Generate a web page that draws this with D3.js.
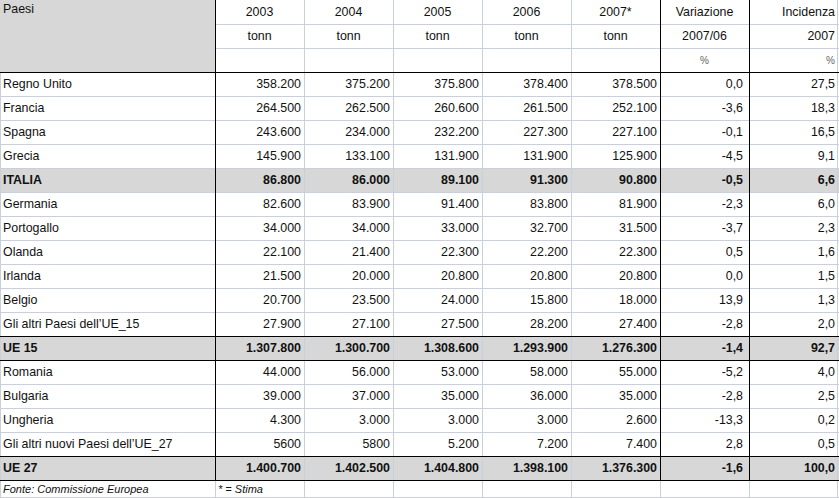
<!DOCTYPE html>
<html>
<head>
<meta charset="utf-8">
<script src="https://cdn.jsdelivr.net/npm/d3@7"></script>
<style>
	body { margin: 0; background: #fff; }
	svg text { font-family: "Liberation Sans", Arial, sans-serif; font-size: 12.4px; fill: #111; }
</style>
</head>
<body>
<div id="myTable"></div>
<script>

// table data
var countries = ["Regno Unito", "Francia", "Spagna", "Grecia", "ITALIA", "Germania", "Portogallo",
	"Olanda", "Irlanda", "Belgio", "Gli altri Paesi dell\u2019UE_15", "UE 15", "Romania", "Bulgaria",
	"Ungheria", "Gli altri nuovi Paesi dell\u2019UE_27", "UE 27"];
var y2003 = [358200, 264500, 243600, 145900, 86800, 82600, 34000, 22100, 21500, 20700, 27900, 1307800, 44000, 39000, 4300, 5600, 1400700];
var y2004 = [375200, 262500, 234000, 133100, 86000, 83900, 34000, 21400, 20000, 23500, 27100, 1300700, 56000, 37000, 3000, 5800, 1402500];
var y2005 = [375800, 260600, 232200, 131900, 89100, 91400, 33000, 22300, 20800, 24000, 27500, 1308600, 53000, 35000, 3000, 5200, 1404800];
var y2006 = [378400, 261500, 227300, 131900, 91300, 83800, 32700, 22200, 20800, 15800, 28200, 1293900, 58000, 36000, 3000, 7200, 1398100];
var y2007 = [378500, 252100, 227100, 125900, 90800, 81900, 31500, 22300, 20800, 18000, 27400, 1276300, 55000, 35000, 2600, 7400, 1376300];
var variazione = [0.0, -3.6, -0.1, -4.5, -0.5, -2.3, -3.7, 0.5, 0.0, 13.9, -2.8, -1.4, -5.2, -2.8, -13.3, 2.8, -1.6];
var incidenza = [27.5, 18.3, 16.5, 9.1, 6.6, 6.0, 2.3, 1.6, 1.5, 1.3, 2.0, 92.7, 4.0, 2.5, 0.2, 0.5, 100.0];

var headTop = ["2003", "2004", "2005", "2006", "2007*", "Variazione", "Incidenza"];
var headMid = ["tonn", "tonn", "tonn", "tonn", "tonn", "2007/06", "2007"];
var headBot = ["", "", "", "", "", "%", "%"];
var totalRows = ["ITALIA", "UE 15", "UE 27"];
// cells written in the source without thousands separator
var noSeparator = ["Gli altri nuovi Paesi dell\u2019UE_27|0", "Gli altri nuovi Paesi dell\u2019UE_27|1"];
var footNote = "Fonte: Commissione Europea";
var starNote = "* = Stima";

function drawTable() {
	var width = 839, height = 498;
	var labelW = 215, headH = 72, bodyBottom = 480;
	var grid = "#c9d0dc", shade = "#d7d7d7";

	var it = d3.formatLocale({decimal: ",", thousands: ".", grouping: [3], currency: ["", "\u20ac"], minus: "-"});
	var fmtT = it.format(",.0f"), fmtP = it.format(",.1f");

	var columns = [y2003, y2004, y2005, y2006, y2007, variazione, incidenza];

	var svg = d3.select('#myTable')
		.append('svg')
		.attr('width', width)
		.attr('height', height);

	var x = d3.scaleBand()
		.domain(d3.range(columns.length))
		.range([labelW, width - 1]);

	var y = d3.scaleBand()
		.domain(countries)
		.range([headH, bodyBottom]);

	var yHead = d3.scaleBand()
		.domain([0, 1, 2])
		.range([0, headH]);

	// shaded cells
	svg.append("rect")
		.attr("x", 0).attr("y", 0)
		.attr("width", labelW).attr("height", headH)
		.attr("fill", shade);

	svg.selectAll(".shaded")
		.data(totalRows)
		.enter().append("rect")
		.attr("class", "shaded")
		.attr("x", 0)
		.attr("y", function(d) { return y(d) })
		.attr("width", width)
		.attr("height", y.bandwidth())
		.attr("fill", shade);

	// light grid lines
	var g = svg.append("g").attr("stroke", grid).attr("shape-rendering", "crispEdges");
	yHead.domain().forEach(function(i) {
		if (i > 0) g.append("line").attr("x1", labelW).attr("x2", width).attr("y1", yHead(i) + 0.5).attr("y2", yHead(i) + 0.5);
	});
	countries.forEach(function(c) {
		g.append("line").attr("x1", 0).attr("x2", width).attr("y1", y(c) + 0.5).attr("y2", y(c) + 0.5);
	});
	g.append("line").attr("x1", 0).attr("x2", width).attr("y1", height - 0.5).attr("y2", height - 0.5);
	x.domain().forEach(function(i) {
		g.append("line").attr("x1", x(i) + 0.5).attr("x2", x(i) + 0.5).attr("y1", 0).attr("y2", height);
	});
	g.append("line").attr("x1", width - 1.5).attr("x2", width - 1.5).attr("y1", 0).attr("y2", height);
	g.append("line").attr("x1", 0.5).attr("x2", 0.5).attr("y1", headH).attr("y2", height);

	// black borders
	var b = svg.append("g").attr("stroke", "#000").attr("shape-rendering", "crispEdges");
	[headH, y("UE 15"), y("UE 15") + y.bandwidth(), y("UE 27"), bodyBottom].forEach(function(v) {
		b.append("line").attr("x1", 0).attr("x2", width).attr("y1", v + 0.5).attr("y2", v + 0.5);
	});
	[labelW, x(5), x(6)].forEach(function(v) {
		b.append("line").attr("x1", v + 0.5).attr("x2", v + 0.5).attr("y1", 0).attr("y2", bodyBottom);
	});

	// header
	svg.append("text").attr("x", 3).attr("y", 13).text("Paesi");

	[headTop, headMid, headBot].forEach(function(row, r) {
		svg.selectAll(".head" + r)
			.data(row)
			.enter().append("text")
			.attr("class", "head" + r)
			.attr("x", function(d, i) { return i == 6 ? x(i) + x.bandwidth() - 3 : x(i) + x.bandwidth() / 2 })
			.attr("y", yHead(r) + yHead.bandwidth() / 2)
			.attr("dy", "0.35em")
			.attr("text-anchor", function(d, i) { return i == 6 ? "end" : "middle" })
			.style("font-size", r == 2 ? "10px" : null)
			.style("fill", r == 2 ? "#666" : null)
			.text(function(d) { return d });
	});

	// body
	var rows = svg.selectAll(".row")
		.data(countries)
		.enter().append("g")
		.attr("class", "row")
		.style("font-weight", function(d) { return totalRows.indexOf(d) >= 0 ? "bold" : null });

	rows.append("text")
		.attr("x", 3)
		.attr("y", function(d) { return y(d) + y.bandwidth() / 2 })
		.attr("dy", "0.35em")
		.text(function(d) { return d });

	columns.forEach(function(col, ci) {
		rows.append("text")
			.attr("x", x(ci) + x.bandwidth() - (ci == 5 ? 6 : 3))
			.attr("y", function(d) { return y(d) + y.bandwidth() / 2 })
			.attr("dy", "0.35em")
			.attr("text-anchor", "end")
			.text(function(d, ri) {
				var v = col[ri];
				if (ci >= 5) return fmtP(v);
				if (noSeparator.indexOf(d + "|" + ci) >= 0) return String(v);
				return fmtT(v);
			});
	});

	// footer
	svg.append("text")
		.attr("x", 3).attr("y", 489).attr("dy", "0.35em")
		.style("font-size", "11px").style("font-style", "italic")
		.text(footNote);
	svg.append("text")
		.attr("x", labelW + 3).attr("y", 489).attr("dy", "0.35em")
		.style("font-size", "11px").style("font-style", "italic")
		.text(starNote);
}

document.addEventListener('DOMContentLoaded', drawTable, false);
</script>
</body>
</html>
